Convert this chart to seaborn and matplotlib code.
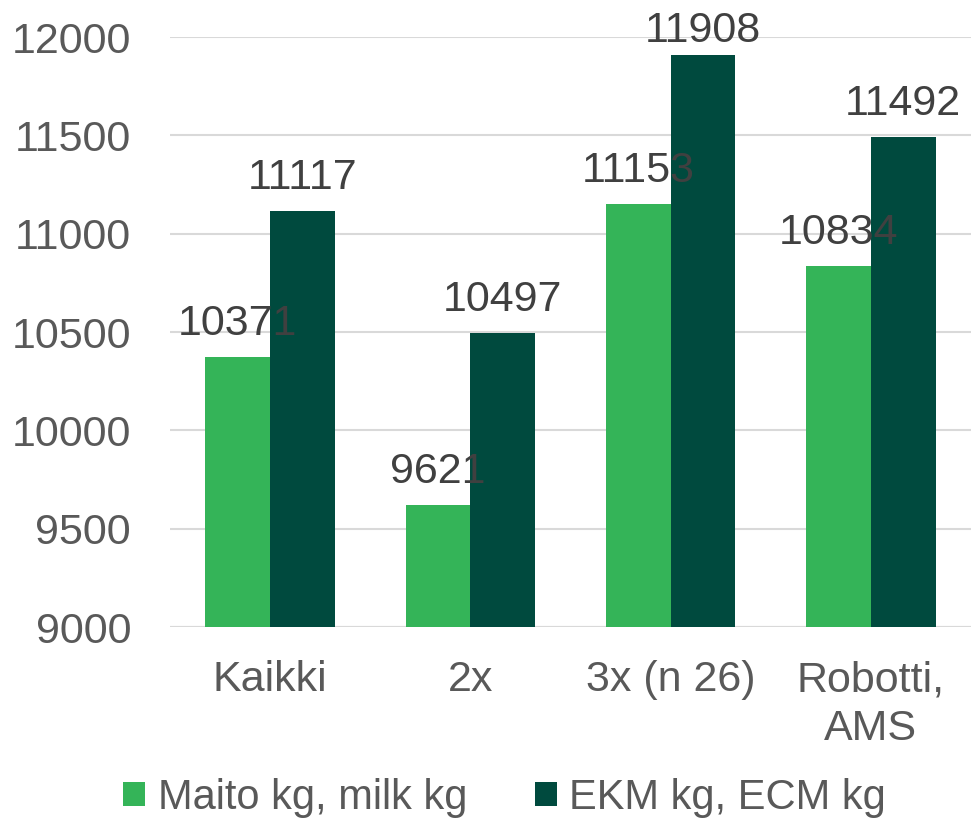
import matplotlib
matplotlib.use("Agg")
import matplotlib.pyplot as plt
import seaborn as sns
import pandas as pd
from matplotlib.patches import Patch

categories = ["Kaikki", "2x", "3x (n 26)", "Robotti,\nAMS"]
series_names = ["Maito kg, milk kg", "EKM kg, ECM kg"]
milk = [10371, 9621, 11153, 10834]
ecm = [11117, 10497, 11908, 11492]
yticks = [9000, 9500, 10000, 10500, 11000, 11500, 12000]
colors = ["#34b458", "#004a3e"]

df = pd.DataFrame({
    "cat": categories * 2,
    "series": [series_names[0]] * 4 + [series_names[1]] * 4,
    "value": milk + ecm,
})

sns.set_theme(style="white")
plt.rcParams["font.family"] = ["Liberation Sans", "DejaVu Sans"]

FS = 31
fig = plt.figure(figsize=(9.71, 8.19), dpi=100)
ax = fig.add_axes([0.175, 0.2344, 0.825, 0.7204])

sns.barplot(data=df, x="cat", y="value", hue="series", palette=colors,
            width=0.647, saturation=1, ax=ax, legend=False, zorder=2,
            linewidth=0)

ax.set_ylim(9000, 12000)
ax.set_yticks(yticks)
ax.set_yticklabels([str(t) for t in yticks], fontsize=FS, color="#595959")
ax.tick_params(axis="x", labelsize=FS, colors="#595959", length=0, pad=24)
ax.tick_params(axis="y", length=0, pad=28)
for lbl in ax.get_xticklabels():
    lbl.set_linespacing(1.29)
ax.set_xlabel("")
ax.set_ylabel("")
ax.grid(axis="y", color="#d9d9d9", linewidth=1.5, zorder=0)
ax.set_axisbelow(True)
for s in ax.spines.values():
    s.set_visible(False)
ax.axhline(9000, color="#d9d9d9", linewidth=1.5, zorder=0)

fig.canvas.draw()
fig_h = fig.bbox.height
inv = ax.transData.inverted()
for container in ax.containers:
    for bar in container:
        h = bar.get_height()
        xc = bar.get_x() + bar.get_width() / 2
        top_disp = ax.transData.transform((xc, h))[1]
        base_disp = min(top_disp + 22, fig_h - 42)
        y_base = inv.transform((0, base_disp))[1]
        ax.text(xc, y_base, f"{int(round(h))}",
                ha="center", va="baseline", fontsize=FS, color="#404040",
                zorder=5, clip_on=False)

handles = [Patch(facecolor=c, edgecolor="none") for c in colors]
fig.legend(handles, series_names, loc="center", bbox_to_anchor=(0.5196, 0.026),
           ncol=2, frameon=False, fontsize=30, labelcolor="#595959",
           handlelength=0.53, handleheight=0.53, handletextpad=0.29,
           columnspacing=1.63, borderpad=0, borderaxespad=0)

fig.savefig("out.png", dpi=100)
